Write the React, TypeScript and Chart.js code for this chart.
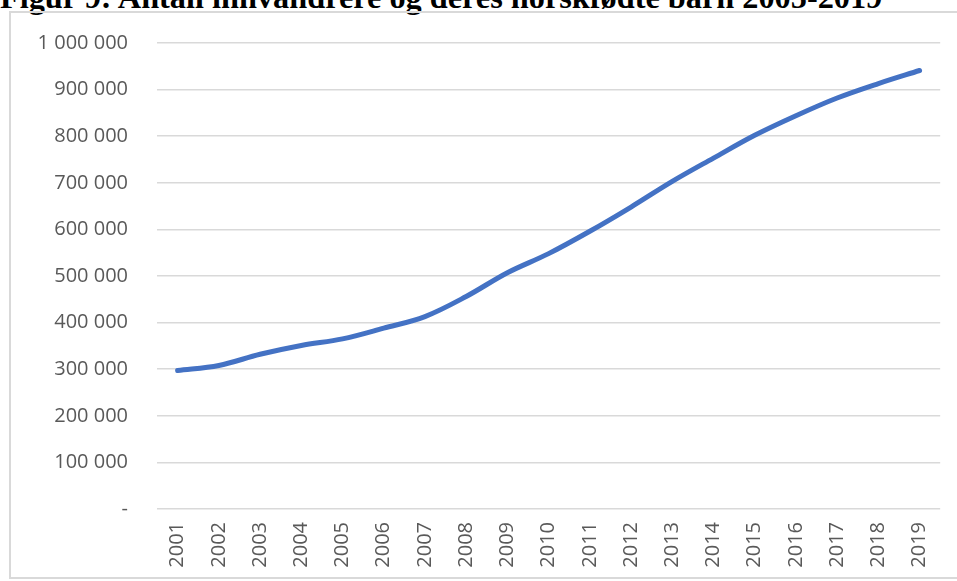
import React, { useEffect, useRef } from "react";
import { Chart, registerables } from "chart.js";

Chart.register(...registerables);

const TITLE = "Figur 9: Antall innvandrere og deres norskfødte barn 2005-2019";
const YEARS = ["2001","2002","2003","2004","2005","2006","2007","2008","2009","2010","2011","2012","2013","2014","2015","2016","2017","2018","2019"];
const VALUES = [297000, 308000, 332000, 351000, 365000, 388000, 413000, 456000, 507000, 548000, 596000, 648000, 703000, 753000, 802000, 844000, 882000, 913000, 941000];
const Y_MIN = 0;
const Y_MAX = 1000000;
const Y_STEP = 100000;

function fmt(v: number): string {
  if (v === 0) return "-";
  return String(v).replace(/\B(?=(\d{3})+(?!\d))/g, " ");
}

export default function App() {
  const ref = useRef<HTMLCanvasElement>(null);
  useEffect(() => {
    if (!ref.current) return;
    const font = { family: "'Open Sans', sans-serif", size: 20 };
    const chart = new Chart(ref.current, {
      type: "line",
      data: {
        labels: YEARS,
        datasets: [
          {
            data: VALUES,
            borderColor: "#4472C4",
            backgroundColor: "#4472C4",
            borderWidth: 5,
            pointRadius: 0,
            tension: 0.35,
            borderCapStyle: "round",
            borderJoinStyle: "round",
          },
        ],
      },
      options: {
        responsive: false,
        animation: false,
        layout: { padding: { left: 0, right: 16, top: 20, bottom: 0 } },
        plugins: { legend: { display: false }, tooltip: { enabled: false }, title: { display: false } },
        scales: {
          x: {
            offset: true,
            grid: { display: false, drawTicks: false },
            border: { display: false },
            ticks: { color: "#595959", font, minRotation: 90, maxRotation: 90, padding: 13, autoSkip: false },
            afterFit: (s: any) => { s.height = 69; },
          },
          y: {
            min: Y_MIN,
            max: Y_MAX,
            grid: { color: "#d9d9d9", lineWidth: 1.5, drawTicks: false },
            border: { display: false },
            ticks: { stepSize: Y_STEP, color: "#595959", font, padding: 29, callback: (v: any) => fmt(Number(v)) },
            afterFit: (s: any) => { s.width = 147; },
          },
        },
      },
    } as any);
    return () => chart.destroy();
  }, []);

  return (
    <div style={{ position: "fixed", left: 0, top: 0, width: 957, height: 581, overflow: "hidden", background: "#fff" }}>
      <div
        style={{
          position: "absolute",
          left: 0,
          top: -19,
          fontFamily: "'Liberation Serif', 'Times New Roman', serif",
          fontWeight: "bold",
          fontSize: 32.3,
          lineHeight: "32px",
          whiteSpace: "nowrap",
          color: "#000",
        }}
      >
        {TITLE}
      </div>
      <div
        style={{
          position: "absolute",
          left: 9,
          top: 11,
          width: 980,
          height: 568,
          border: "2px solid #d9d9d9",
          boxSizing: "border-box",
        }}
      />
      <canvas ref={ref} width={947} height={576} style={{ position: "absolute", left: 10, top: 2 }} />
    </div>
  );
}
